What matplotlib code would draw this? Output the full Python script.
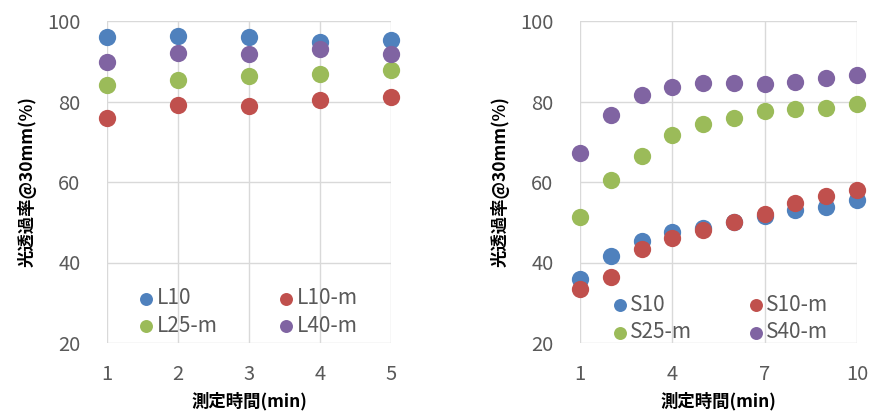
import matplotlib
matplotlib.use("Agg")
import matplotlib.pyplot as plt

plt.rcParams['font.family'] = ['Noto Sans CJK JP', 'DejaVu Sans']

# Left panel: L series, measured at 1-5 min
l_time = [1, 2, 3, 4, 5]
l10 = [96.0, 96.2, 96.0, 94.8, 95.4]
l10_m = [76.0, 79.2, 78.8, 80.3, 81.1]
l25_m = [84.0, 85.3, 86.4, 86.9, 87.9]
l40_m = [89.8, 92.1, 91.8, 93.0, 91.9]
l_xticks = [1, 2, 3, 4, 5]

# Right panel: S series, measured at 1-10 min
s_time = [1, 2, 3, 4, 5, 6, 7, 8, 9, 10]
s10 = [35.8, 41.6, 45.4, 47.5, 48.6, 50.1, 51.5, 53.0, 53.7, 55.5]
s10_m = [33.5, 36.5, 43.3, 46.2, 48.0, 50.1, 52.0, 54.7, 56.5, 58.0]
s25_m = [51.2, 60.4, 66.5, 71.7, 74.3, 76.0, 77.6, 78.1, 78.5, 79.3]
s40_m = [67.3, 76.6, 81.5, 83.6, 84.6, 84.6, 84.3, 84.8, 85.9, 86.5]
s_xticks = [1, 4, 7, 10]

y_ticks = [20, 40, 60, 80, 100]

BLUE = '#4F81BD'
RED = '#C0504D'
GREEN = '#9BBB59'
PURPLE = '#8064A2'
GRID = '#D9D9D9'
TICK = '#595959'

fig = plt.figure(figsize=(8.7, 4.17), dpi=100)
ax_l = fig.add_axes([107 / 870, 74 / 417, 284 / 870, 322 / 417])
ax_r = fig.add_axes([580 / 870, 74 / 417, 277 / 870, 322 / 417])


def style(ax, xlim, xticks):
    ax.set_xlim(*xlim)
    ax.set_ylim(20, 100)
    ax.set_xticks(xticks)
    ax.set_yticks(y_ticks)
    for s in ax.spines.values():
        s.set_visible(False)
    ax.grid(True, color=GRID, linewidth=1.0)
    ax.set_axisbelow(True)
    ax.tick_params(length=0, labelsize=14.5, colors=TICK)
    ax.tick_params(axis='y', pad=19)
    ax.tick_params(axis='x', pad=15)
    ax.set_xlabel('測定時間(min)', fontsize=12.5, fontweight='bold', labelpad=5)
    ax.set_ylabel('光透過率@30mm(%)', fontsize=12.5, fontweight='bold', labelpad=8)


def plot_series(ax, x, series):
    for y, color, label in series:
        ax.scatter(x, y, s=155, color=color, label=label, clip_on=False,
                   linewidths=0, zorder=3)


def add_legend(ax, anchor, colspace):
    handles, labels = ax.get_legend_handles_labels()
    # two columns, filled row by row
    order = [0, 2, 1, 3]
    ax.legend([handles[i] for i in order], [labels[i] for i in order],
              ncol=2, loc='lower left', bbox_to_anchor=anchor, frameon=False,
              fontsize=15, markerscale=0.75, handletextpad=0.0,
              columnspacing=colspace, labelspacing=0.25, borderaxespad=0.0,
              labelcolor=TICK, handlelength=1.0)


plot_series(ax_l, l_time, [(l10, BLUE, 'L10'), (l10_m, RED, 'L10-m'),
                           (l25_m, GREEN, 'L25-m'), (l40_m, PURPLE, 'L40-m')])
style(ax_l, (1, 5), l_xticks)
add_legend(ax_l, (0.072, -0.006), 2.8)

plot_series(ax_r, s_time, [(s10, BLUE, 'S10'), (s10_m, RED, 'S10-m'),
                           (s25_m, GREEN, 'S25-m'), (s40_m, PURPLE, 'S40-m')])
style(ax_r, (1, 10), s_xticks)
add_legend(ax_r, (0.075, -0.026), 2.55)

fig.savefig('out.png', dpi=100)
